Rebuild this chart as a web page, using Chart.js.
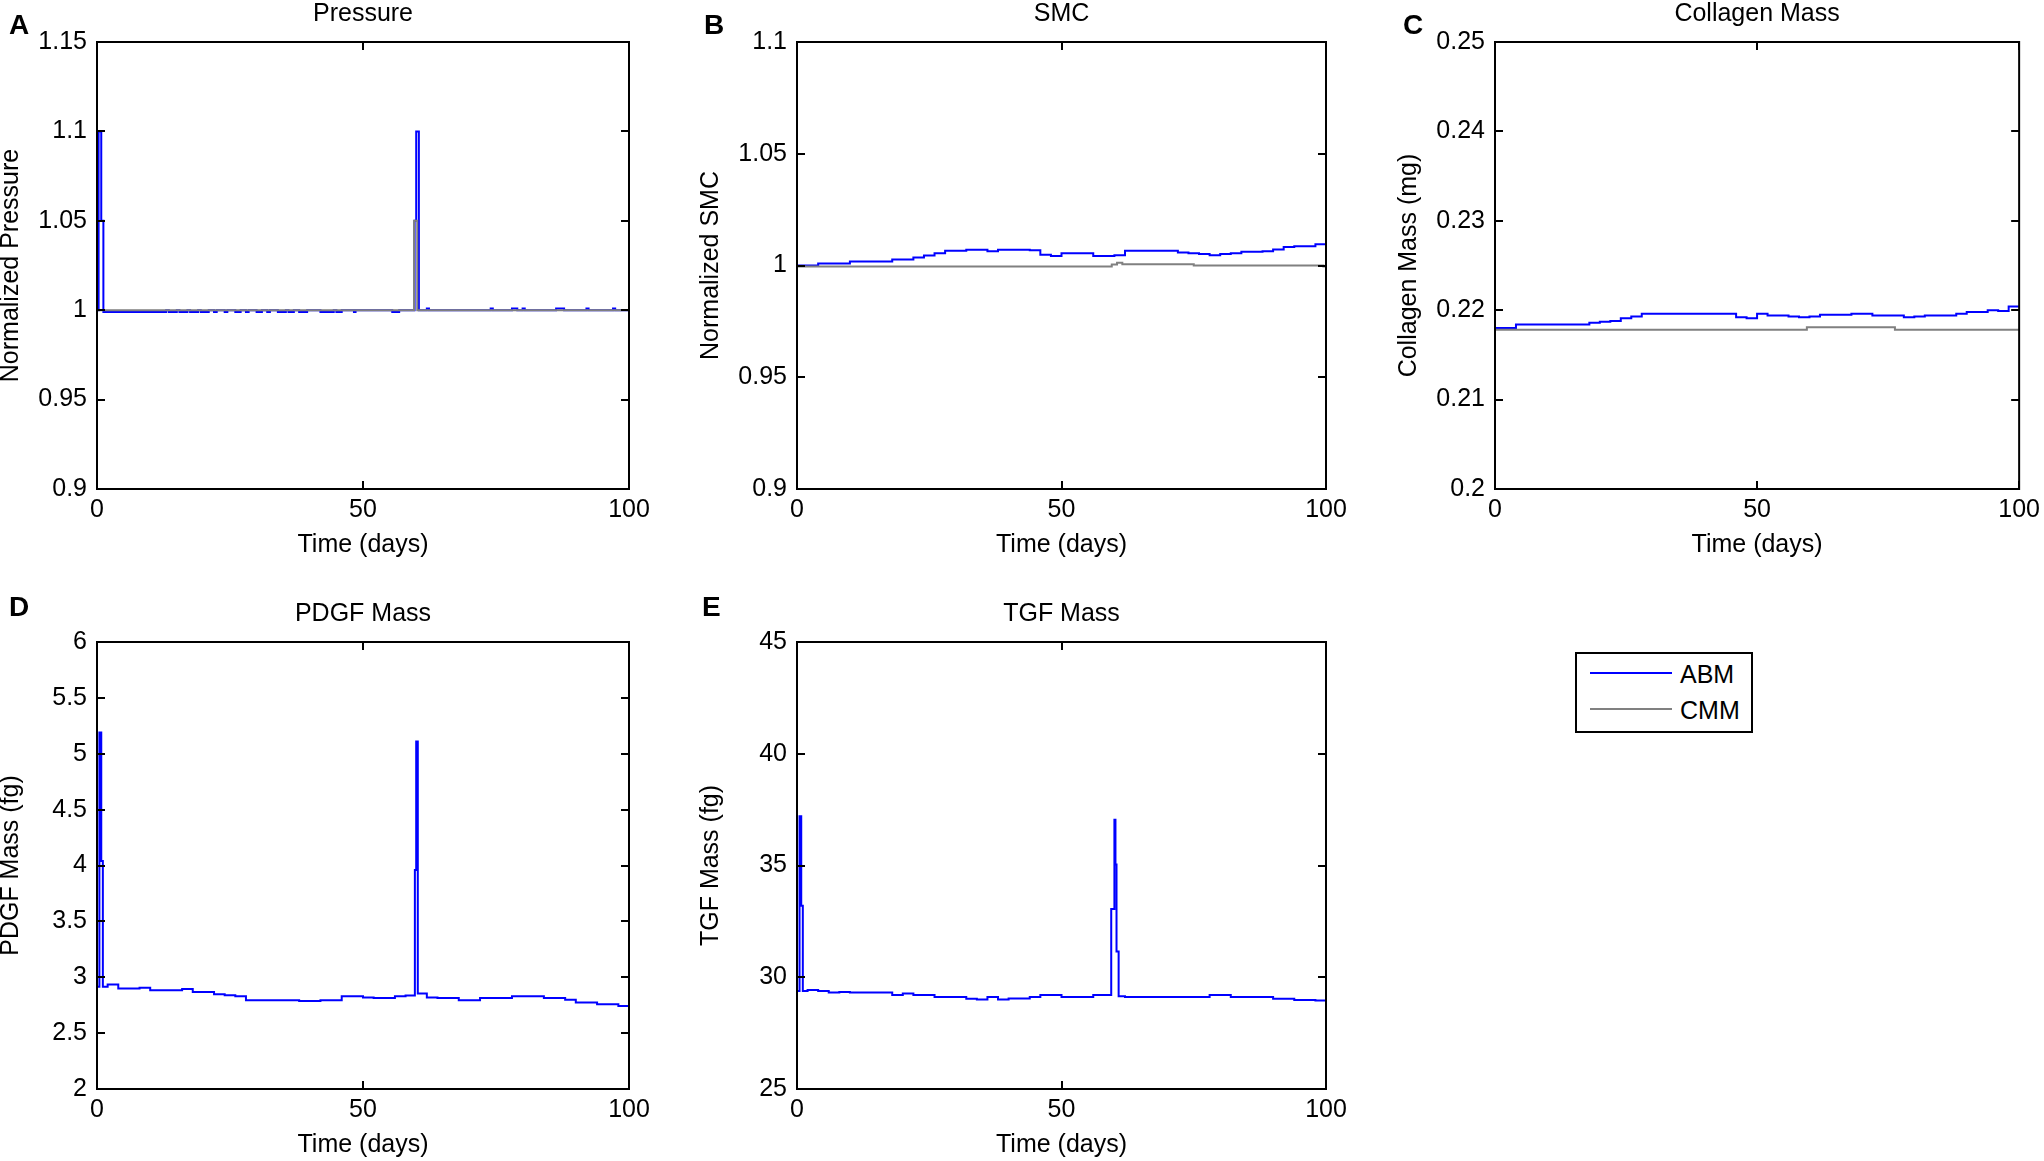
<!DOCTYPE html>
<html>
<head>
<meta charset="utf-8">
<script src="https://cdn.jsdelivr.net/npm/chart.js@4.4.1/dist/chart.umd.min.js"></script>
<style>
  html, body { margin: 0; padding: 0; background: #fff; overflow: hidden; }
  body { width: 2044px; height: 1161px; position: relative; font-family: "Liberation Sans", Arial, Helvetica, sans-serif; }
  canvas { position: absolute; }
  .letter { position: absolute; font-weight: bold; font-size: 28px; line-height: 28px; }
  .legend { position: absolute; left: 1575px; top: 652px; width: 174px; height: 77px; border: 2px solid #000; }
  .legend .swatch { position: absolute; left: 13px; width: 82px; height: 0; border-top: 2px solid; }
  .legend .label { position: absolute; left: 103px; font-size: 25px; line-height: 25px; }
</style>
</head>
<body>

<canvas id="pressure" width="660" height="558" style="left:-1px;top:0px"></canvas>
<canvas id="smc" width="657" height="558" style="left:699px;top:0px"></canvas>
<canvas id="collagen" width="649" height="558" style="left:1397px;top:0px"></canvas>
<canvas id="pdgf" width="660" height="558" style="left:-1px;top:600px"></canvas>
<canvas id="tgf" width="657" height="558" style="left:699px;top:600px"></canvas>

<div class="letter" style="left:9px;top:11px">A</div>
<div class="letter" style="left:704px;top:11px">B</div>
<div class="letter" style="left:1403px;top:11px">C</div>
<div class="letter" style="left:9px;top:593px">D</div>
<div class="letter" style="left:702px;top:593px">E</div>

<div class="legend">
  <div class="swatch" style="top:18px;border-color:#0000ff"></div>
  <div class="label" style="top:8px">ABM</div>
  <div class="swatch" style="top:54px;border-color:#808080"></div>
  <div class="label" style="top:44px">CMM</div>
</div>

<script>
// time grid shared by the smooth panels (days)
const days = [0, 2, 4, 6, 8, 10, 12, 14, 16, 18, 20, 22, 24, 26, 28, 30, 32, 34, 36, 38, 40,
  42, 44, 46, 48, 50, 52, 54, 56, 58, 60, 62, 64, 66, 68, 70, 72, 74, 76, 78, 80,
  82, 84, 86, 88, 90, 92, 94, 96, 98, 100];

// A - Pressure
const pressureDays = [0, 0.3, 0.8, 1.2, 13, 13.5, 15, 15.5, 17, 17.5, 19, 19.5, 21, 22, 22.5, 24, 24.5,
  26, 27, 28, 28.5, 30, 31, 32, 32.5, 34, 35.5, 36, 37, 38, 39.5, 42, 44.5, 45, 46, 48.3, 48.6,
  55.5, 56.8, 59.7, 60.0, 60.5, 62, 62.4, 74, 74.4, 78, 79, 80, 80.4, 86.3, 87.8, 92, 92.4, 97, 97.4, 100];
const pressureAbm = [1.0, 1.1, 1.05, 0.999, 1.0, 0.999, 1.0, 0.999, 1.0, 0.999, 1.0, 0.999, 1.0, 0.999, 1.0, 0.999, 1.0,
  0.999, 1.0, 0.999, 1.0, 0.999, 1.0, 0.999, 1.0, 0.999, 1.0, 0.999, 1.0, 0.999, 1.0, 0.999, 1.0, 0.999, 1.0, 0.999, 1.0,
  0.999, 1.0, 1.05, 1.1, 1.0, 1.001, 1.0, 1.001, 1.0, 1.001, 1.0, 1.001, 1.0, 1.001, 1.0, 1.001, 1.0, 1.001, 1.0, 1.0];
const pressureCmmDays = [0, 59.6, 60.2, 100];
const pressureCmm = [1.0, 1.05, 1.0, 1.0];

// B - SMC
const smcAbm = [1.0, 1.0, 1.0009, 1.0009, 1.0009, 1.0018, 1.0018, 1.0018, 1.0018, 1.0027, 1.0027,
  1.0036, 1.0045, 1.0055, 1.0066, 1.0066, 1.0071, 1.0071, 1.0064, 1.0071, 1.0071,
  1.0071, 1.0068, 1.0048, 1.0043, 1.0055, 1.0055, 1.0055, 1.0043, 1.0043, 1.0046,
  1.0066, 1.0066, 1.0066, 1.0066, 1.0066, 1.0058, 1.0055, 1.0052, 1.0046, 1.0052,
  1.0055, 1.0062, 1.0062, 1.0064, 1.0072, 1.0083, 1.0086, 1.0086, 1.0095, 1.0100];
const smcCmmDays = [0, 59.5, 60.5, 61.5, 75, 99.5, 100];
const smcCmm = [0.9995, 1.0005, 1.0012, 1.0006, 1.0, 0.9995, 0.9995];

// C - Collagen mass (mg)
const collagenAbm = [0.2180, 0.2180, 0.2184, 0.2184, 0.2184, 0.2184, 0.2184, 0.2184, 0.2184, 0.2186, 0.2187,
  0.2188, 0.2191, 0.2193, 0.2196, 0.2196, 0.2196, 0.2196, 0.2196, 0.2196, 0.2196,
  0.2196, 0.2196, 0.2192, 0.2191, 0.2196, 0.2194, 0.2194, 0.2193, 0.2192, 0.2193,
  0.2195, 0.2195, 0.2195, 0.2196, 0.2196, 0.2194, 0.2194, 0.2194, 0.2192, 0.2193,
  0.2194, 0.2194, 0.2194, 0.2196, 0.2198, 0.2198, 0.2200, 0.2199, 0.2204, 0.2204];
const collagenCmmDays = [0, 59.5, 76.3, 100];
const collagenCmm = [0.2178, 0.2181, 0.2178, 0.2178];

// D - PDGF mass (fg)
const pdgfDays = [0, 0.45, 0.8, 1.1, 2, 4, 6, 8, 10, 12, 14, 16, 18, 20, 22, 24, 26, 28, 30, 32, 34, 36, 38, 40,
  42, 44, 46, 48, 50, 52, 54, 56, 58, 59.75, 60.0, 60.3, 62, 64, 66, 68, 70, 72, 74, 76, 78, 80,
  82, 84, 86, 88, 90, 92, 94, 96, 98, 100];
const pdgfAbm = [2.915, 5.19, 4.04, 2.915, 2.935, 2.90, 2.90, 2.905, 2.884, 2.884, 2.884, 2.895, 2.868, 2.868,
  2.848, 2.838, 2.83, 2.794, 2.794, 2.794, 2.794, 2.794, 2.788, 2.788, 2.794, 2.794, 2.83, 2.83, 2.818,
  2.815, 2.815, 2.83, 2.836, 3.96, 5.11, 2.855, 2.818, 2.815, 2.815, 2.794, 2.794, 2.815, 2.815, 2.815,
  2.83, 2.83, 2.83, 2.815, 2.815, 2.798, 2.774, 2.774, 2.758, 2.758, 2.743, 2.743];

// E - TGF mass (fg)
const tgfDays = [0, 0.48, 0.8, 1.1, 2, 4, 6, 8, 10, 12, 14, 16, 18, 20, 22, 24, 26, 28, 30, 32, 34, 36, 38, 40,
  42, 44, 46, 48, 50, 52, 54, 56, 58, 59.4, 60.0, 60.2, 60.4, 60.8, 62, 64, 66, 68, 70, 72, 74, 76, 78, 80,
  82, 84, 86, 88, 90, 92, 94, 96, 98, 100];
const tgfAbm = [29.39, 37.2, 33.2, 29.39, 29.43, 29.39, 29.32, 29.34, 29.32, 29.32, 29.32, 29.32, 29.21, 29.27,
  29.21, 29.21, 29.12, 29.12, 29.12, 29.04, 29.01, 29.12, 29.01, 29.05, 29.05, 29.12, 29.21, 29.21, 29.12,
  29.12, 29.12, 29.21, 29.21, 33.05, 37.05, 35.05, 31.15, 29.15, 29.12, 29.12, 29.12, 29.12, 29.12, 29.12,
  29.12, 29.12, 29.21, 29.21, 29.12, 29.12, 29.12, 29.12, 29.04, 29.04, 28.98, 28.98, 28.96, 28.96];

const ABM_COLOR = '#0000ff';
const CMM_COLOR = '#808080';

Chart.defaults.font.family = '"Liberation Sans", Arial, Helvetica, sans-serif';
Chart.defaults.color = '#000';

function points(xs, ys) {
  return xs.map((x, i) => ({ x: x, y: ys[i] }));
}

function fmt(v) {
  return String(parseFloat(Number(v).toFixed(4)));
}

// matlab style box with inward ticks on every side
const framePlugin = {
  id: 'frame',
  afterDatasetsDraw(chart) {
    const ctx = chart.ctx;
    const a = chart.chartArea;
    const x = chart.scales.x;
    const y = chart.scales.y;
    ctx.save();
    ctx.strokeStyle = '#000';
    ctx.lineWidth = 2;
    ctx.strokeRect(a.left, a.top, a.right - a.left, a.bottom - a.top);
    ctx.beginPath();
    x.ticks.forEach(t => {
      const px = Math.round(x.getPixelForValue(t.value));
      ctx.moveTo(px, a.bottom); ctx.lineTo(px, a.bottom - 8);
      ctx.moveTo(px, a.top); ctx.lineTo(px, a.top + 8);
    });
    y.ticks.forEach(t => {
      const py = Math.round(y.getPixelForValue(t.value));
      ctx.moveTo(a.left, py); ctx.lineTo(a.left + 8, py);
      ctx.moveTo(a.right, py); ctx.lineTo(a.right - 8, py);
    });
    ctx.stroke();
    ctx.restore();
  }
};

function line(data, color, order) {
  return {
    data: data,
    borderColor: color,
    borderWidth: 2,
    pointRadius: 0,
    stepped: true,
    fill: false,
    order: order
  };
}

function drawPanel(id, title, yLabel, yMin, yMax, yStep, rightPad, datasets) {
  return new Chart(document.getElementById(id), {
    type: 'line',
    data: { datasets: datasets },
    plugins: [framePlugin],
    options: {
      responsive: false,
      animation: false,
      parsing: false,
      layout: { padding: { left: 0, top: 0, bottom: 0, right: rightPad } },
      plugins: {
        legend: { display: false },
        tooltip: { enabled: false },
        title: {
          display: true,
          text: title,
          fullSize: false,
          color: '#000',
          font: { size: 25, weight: 'normal', lineHeight: 1 },
          padding: { top: 2, bottom: 15 }
        }
      },
      scales: {
        x: {
          type: 'linear',
          min: 0,
          max: 100,
          ticks: { stepSize: 50, padding: 6, font: { size: 25 }, maxRotation: 0, autoSkip: false },
          grid: { display: false, drawTicks: false },
          border: { display: false },
          title: { display: true, text: 'Time (days)', font: { size: 25, lineHeight: 1 }, padding: 0 },
          afterFit: s => { s.height = 69; }
        },
        y: {
          type: 'linear',
          min: yMin,
          max: yMax,
          ticks: { stepSize: yStep, padding: 10, font: { size: 25 }, autoSkip: false, callback: fmt },
          grid: { display: false, drawTicks: false },
          border: { display: false },
          title: { display: true, text: yLabel, font: { size: 25, lineHeight: 1 }, padding: 0 },
          afterFit: s => { s.width = 98; }
        }
      }
    }
  });
}

drawPanel('pressure', 'Pressure', 'Normalized Pressure', 0.9, 1.15, 0.05, 30, [
  line(points(pressureDays, pressureAbm), ABM_COLOR, 1),
  line(points(pressureCmmDays, pressureCmm), CMM_COLOR, 0)
]);

drawPanel('smc', 'SMC', 'Normalized SMC', 0.9, 1.1, 0.05, 30, [
  line(points(days, smcAbm), ABM_COLOR, 1),
  line(points(smcCmmDays, smcCmm), CMM_COLOR, 0)
]);

drawPanel('collagen', 'Collagen Mass', 'Collagen Mass (mg)', 0.2, 0.25, 0.01, 22, [
  line(points(days, collagenAbm), ABM_COLOR, 1),
  line(points(collagenCmmDays, collagenCmm), CMM_COLOR, 0)
]);

drawPanel('pdgf', 'PDGF Mass', 'PDGF Mass (fg)', 2, 6, 0.5, 30, [
  line(points(pdgfDays, pdgfAbm), ABM_COLOR, 1)
]);

drawPanel('tgf', 'TGF Mass', 'TGF Mass (fg)', 25, 45, 5, 30, [
  line(points(tgfDays, tgfAbm), ABM_COLOR, 1)
]);
</script>
</body>
</html>
